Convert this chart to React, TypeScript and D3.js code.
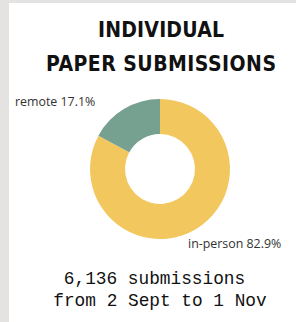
import React, { useEffect, useRef } from 'react';
import * as d3 from 'd3';

const categories = ['in-person', 'remote'];
const shares = [82.9, 17.1];
const colors = ['#f2c75e', '#76a08f'];
const titleLines = ['INDIVIDUAL', 'PAPER SUBMISSIONS'];
const footerLines = ['6,136 submissions', 'from 2 Sept to 1 Nov'];

const W = 296;
const H = 322;

export default function App() {
  const ref = useRef<SVGSVGElement>(null);

  useEffect(() => {
    const svg = d3.select(ref.current);
    svg.selectAll('*').remove();

    svg.append('rect').attr('width', W).attr('height', H).attr('fill', '#e4e3e1');
    svg.append('rect').attr('x', 9).attr('y', 3).attr('width', W - 9).attr('height', H - 3).attr('fill', '#fff');

    // title
    svg.selectAll('.title')
      .data(titleLines)
      .join('text')
      .attr('class', 'title')
      .attr('x', 161)
      .attr('y', (d, i) => 37 + i * 34)
      .attr('text-anchor', 'middle')
      .attr('font-family', '"Liberation Sans Narrow", "DejaVu Sans Condensed", sans-serif')
      .attr('font-weight', 'bold')
      .attr('font-size', 21)
      .attr('textLength', (d, i) => (i === 0 ? 126 : 230))
      .attr('lengthAdjust', 'spacing')
      .attr('fill', '#111')
      .text(d => d);

    const cx = 160, cy = 169;
    const pie = d3.pie<number>().sort(null);
    const arc = d3.arc<d3.PieArcDatum<number>>().innerRadius(35).outerRadius(70);

    const g = svg.append('g').attr('transform', `translate(${cx},${cy})`);
    g.selectAll('path')
      .data(pie(shares))
      .join('path')
      .attr('d', arc)
      .attr('fill', (d, i) => colors[i]);

    // slice labels
    const labelPos = [
      { x: 188, y: 248 },
      { x: 15, y: 106 },
    ];
    svg.selectAll('.slabel')
      .data(categories)
      .join('text')
      .attr('class', 'slabel')
      .attr('x', (d, i) => labelPos[i].x)
      .attr('y', (d, i) => labelPos[i].y)
      .attr('font-family', '"Open Sans", sans-serif')
      .attr('font-size', 12.4)
      .attr('fill', '#333')
      .text((d, i) => `${d} ${shares[i]}%`);

    // footer
    svg.selectAll('.footer')
      .data(footerLines)
      .join('text')
      .attr('class', 'footer')
      .attr('x', (d, i) => (i === 0 ? 154.5 : 160))
      .attr('y', (d, i) => 284 + i * 22)
      .attr('text-anchor', 'middle')
      .attr('font-family', '"Liberation Mono", monospace')
      .attr('font-size', 17.8)
      .attr('fill', '#111')
      .text(d => d);
  }, []);

  return (
    <svg ref={ref} width={W} height={H} style={{ position: 'absolute', left: 0, top: 0, display: 'block' }} />
  );
}
